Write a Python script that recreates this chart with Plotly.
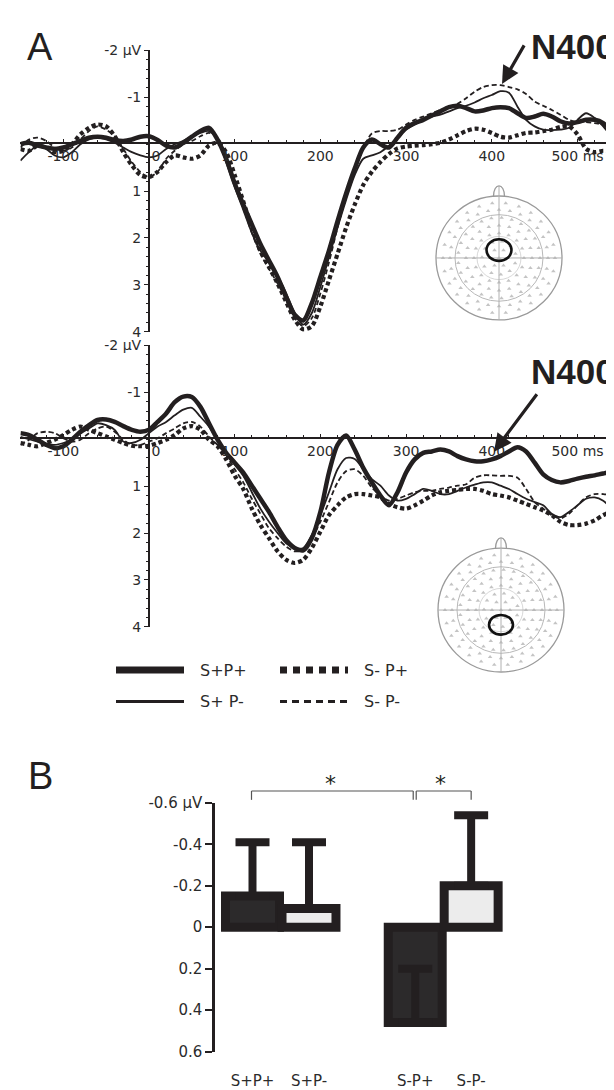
import math
import plotly.graph_objects as go

W, H = 614, 1090
def X(px): return px / W
def Y(py): return 1 - py / H

INK = '#231f20'
TXT = '#2b2b2b'
TICKFONT = dict(family='DejaVu Sans', size=14, color=TXT)

# ---------------- data ----------------
TIME_MS = list(range(-150, 551, 10))

# Panel A, upper plot (central site)
TOP_SPP = [0, -0.03, 0.03, 0.07, 0.10, 0.07, 0, -0.07, -0.14, -0.16, -0.14, -0.09, -0.07, -0.10, -0.16,
           -0.17, -0.09, 0.03, 0.07, -0.03, -0.16, -0.28, -0.35, -0.10, 0.31, 0.84, 1.29, 1.71, 2.13,
           2.48, 2.83, 3.25, 3.64, 3.76, 3.39, 2.83, 2.27, 1.64, 1.05, 0.52, 0.07, -0.10, 0, 0.07,
           -0.14, -0.35, -0.45, -0.52, -0.61, -0.70, -0.79, -0.82, -0.77, -0.70, -0.72, -0.77, -0.79,
           -0.77, -0.66, -0.56, -0.59, -0.65, -0.59, -0.49, -0.44, -0.47, -0.52, -0.52, -0.45, -0.28, -0.14]
TOP_SPM = [0.35, 0.17, 0.03, 0.10, 0.24, 0.28, 0.17, 0, -0.10, -0.14, -0.10, -0.03, 0.07, 0.17, 0.24,
           0.28, 0.24, 0.10, 0, -0.07, -0.17, -0.24, -0.28, -0.10, 0.38, 0.91, 1.40, 1.89, 2.27,
           2.52, 2.80, 3.18, 3.60, 3.85, 3.60, 3.04, 2.41, 1.78, 1.19, 0.66, 0.31, 0.24, 0.17, 0.03,
           -0.14, -0.31, -0.42, -0.52, -0.59, -0.63, -0.70, -0.77, -0.82, -0.89, -0.98, -1.05, -1.13,
           -1.10, -0.80, -0.52, -0.38, -0.31, -0.30, -0.31, -0.35, -0.52, -0.66, -0.56, -0.38, -0.17, -0.07]
TOP_SMP = [0.10, 0.14, 0.03, 0.07, 0.17, 0.14, 0, -0.21, -0.35, -0.42, -0.38, -0.17, 0.17, 0.45, 0.66,
           0.70, 0.59, 0.38, 0.24, 0.28, 0.31, 0.24, 0.03, -0.03, 0.17, 0.66, 1.22, 1.78, 2.27,
           2.62, 2.97, 3.36, 3.74, 3.95, 3.88, 3.46, 2.90, 2.34, 1.78, 1.29, 0.87, 0.59, 0.38, 0.21,
           0.09, 0.05, 0.03, 0.02, 0, -0.03, -0.10, -0.19, -0.28, -0.33, -0.31, -0.24, -0.16,
           -0.14, -0.19, -0.24, -0.25, -0.28, -0.31, -0.37, -0.38, -0.21, 0.10, 0.17, 0.14, 0.16, 0.14]
TOP_SMM = [0.07, -0.10, -0.14, -0.07, 0.07, 0.14, 0.07, -0.10, -0.28, -0.38, -0.31, -0.17, 0.10, 0.38, 0.59,
           0.70, 0.59, 0.31, 0.14, 0, -0.07, -0.17, -0.24, -0.14, 0.24, 0.80, 1.36, 1.89, 2.34,
           2.66, 2.97, 3.32, 3.71, 3.88, 3.71, 3.18, 2.52, 1.78, 1.12, 0.56, 0.10, -0.23, -0.28, -0.28,
           -0.31, -0.42, -0.52, -0.59, -0.66, -0.73, -0.79, -0.86, -0.98, -1.12, -1.22, -1.26, -1.26,
           -1.22, -1.17, -1.07, -0.91, -0.82, -0.73, -0.63, -0.52, -0.47, -0.47, -0.45, -0.42, -0.31, -0.21]

# Panel A, lower plot (posterior site)
BOT_SPP = [-0.13, -0.09, 0.01, 0.12, 0.19, 0.15, 0.01, -0.16, -0.30, -0.41, -0.42, -0.37, -0.28, -0.20, -0.16,
           -0.20, -0.37, -0.55, -0.79, -0.91, -0.90, -0.69, -0.34, 0.01, 0.29, 0.50, 0.71, 0.99, 1.27,
           1.55, 1.87, 2.15, 2.32, 2.37, 2.11, 1.55, 0.71, 0.12, -0.08, 0.22, 0.61, 0.92, 1.20, 1.41,
           1.13, 0.71, 0.43, 0.29, 0.26, 0.22, 0.26, 0.36, 0.43, 0.47, 0.47, 0.43, 0.36,
           0.26, 0.17, 0.26, 0.50, 0.75, 0.87, 0.92, 0.89, 0.84, 0.80, 0.77, 0.73, 0.70, 0.73]
BOT_SPM = [-0.05, 0.0, 0.05, 0.10, 0.12, 0.08, 0.01, -0.12, -0.23, -0.34, -0.30, -0.20, 0.05, 0.08, 0.01,
           -0.13, -0.27, -0.37, -0.51, -0.63, -0.67, -0.48, -0.27, 0.01, 0.29, 0.54, 0.78, 1.13, 1.48,
           1.76, 2.00, 2.22, 2.32, 2.32, 2.04, 1.62, 1.13, 0.64, 0.40, 0.42, 0.64, 0.85, 0.99, 1.20,
           1.31, 1.27, 1.17, 1.06, 1.10, 1.17, 1.17, 1.10, 1.03, 0.97, 0.92, 0.92, 0.99,
           1.06, 1.17, 1.27, 1.34, 1.41, 1.59, 1.66, 1.55, 1.41, 1.27, 1.24, 1.31, 1.48, 1.59]
BOT_SMP = [0.08, 0.12, 0.15, 0.08, 0.01, -0.09, -0.20, -0.27, -0.20, -0.13, -0.06, 0.01, 0.08, 0.14, 0.15,
           0.14, 0.08, 0.01, -0.09, -0.23, -0.28, -0.20, 0.01, 0.15, 0.43, 0.78, 1.06, 1.48, 1.83,
           2.11, 2.39, 2.57, 2.64, 2.57, 2.32, 1.97, 1.62, 1.41, 1.24, 1.17, 1.17, 1.20, 1.24, 1.38,
           1.45, 1.48, 1.41, 1.31, 1.20, 1.13, 1.10, 1.08, 1.06, 1.06, 1.10, 1.17, 1.20,
           1.24, 1.31, 1.38, 1.45, 1.52, 1.62, 1.76, 1.83, 1.83, 1.80, 1.73, 1.62, 1.55, 1.59]
BOT_SMM = [0.12, 0.01, -0.13, -0.16, -0.13, -0.02, 0.05, 0.01, -0.13, -0.23, -0.27, -0.16, 0.01, 0.12, 0.12,
           0.05, -0.02, -0.13, -0.23, -0.34, -0.37, -0.27, -0.06, 0.12, 0.33, 0.64, 0.92, 1.27, 1.59,
           1.90, 2.11, 2.29, 2.39, 2.36, 2.11, 1.76, 1.34, 0.92, 0.68, 0.64, 0.78, 1.03, 1.20, 1.31,
           1.27, 1.20, 1.13, 1.10, 1.10, 1.06, 1.03, 0.99, 0.96, 0.82, 0.77, 0.77, 0.78,
           0.78, 0.82, 1.06, 1.34, 1.48, 1.62, 1.69, 1.59, 1.41, 1.24, 1.17, 1.17, 1.20, 1.31]

CONDITIONS = ['S+P+', 'S+ P-', 'S- P+', 'S- P-']
X_TICKS = [-100, 0, 100, 200, 300, 400, 500]
X_TICKTEXT = ['-100', '\u20030', '100', '200', '300', '400', '500 ms']
Y_TICKS = [-2, -1, 1, 2, 3, 4]
Y_TICKTEXT = ['-2 \u00b5V', '-1', '1', '2', '3', '4']

# Panel B
BAR_LABELS = ['S+P+', 'S+P-', 'S-P+', 'S-P-']
BAR_MEANS = [-0.15, -0.09, 0.46, -0.20]
BAR_SE = [0.26, 0.32, 0.26, 0.34]
B_TICKS = [-0.6, -0.4, -0.2, 0, 0.2, 0.4, 0.6]
B_TICKTEXT = ['-0.6 \u00b5V', '-0.4', '-0.2', '0', '0.2', '0.4', '0.6']

# ---------------- styles / layout constants ----------------
STYLE = {
    'S+P+': dict(width=4.5, dash='solid'),
    'S+ P-': dict(width=1.8, dash='solid'),
    'S- P+': dict(width=4.2, dash='4px,3px'),
    'S- P-': dict(width=1.8, dash='5px,3px'),
}
DRAW_ORDER = ['S- P-', 'S- P+', 'S+ P-', 'S+P+']

A_ZERO_X = 141
A_PX_PER_MS = 0.857
A_XRANGE = [-150, 550]
A_XDOM = [X(A_ZERO_X + A_PX_PER_MS * A_XRANGE[0]), X(A_ZERO_X + A_PX_PER_MS * A_XRANGE[1])]
PANELS = [
    dict(xa='x', ya='y', top=34, bottom=320, zero=128,
         series=dict(zip(CONDITIONS, [TOP_SPP, TOP_SPM, TOP_SMP, TOP_SMM]))),
    dict(xa='x2', ya='y2', top=334, bottom=620, zero=428,
         series=dict(zip(CONDITIONS, [BOT_SPP, BOT_SPM, BOT_SMP, BOT_SMM]))),
]

fig = go.Figure()
layout = dict(width=W, height=H, margin=dict(l=0, r=0, t=0, b=0),
              paper_bgcolor='white', plot_bgcolor='rgba(0,0,0,0)', showlegend=False)

for i, p in enumerate(PANELS):
    for name in DRAW_ORDER:
        st = STYLE[name]
        fig.add_trace(go.Scatter(x=TIME_MS, y=p['series'][name], mode='lines',
                                 line=dict(color=INK, width=st['width'], dash=st['dash'],
                                           shape='spline', smoothing=0.8),
                                 xaxis=p['xa'], yaxis=p['ya'], name=name, hoverinfo='skip'))
    xkey = 'xaxis' if i == 0 else 'xaxis2'
    ykey = 'yaxis' if i == 0 else 'yaxis2'
    layout[xkey] = dict(domain=A_XDOM, range=A_XRANGE, anchor='free', position=Y(p['zero']),
                        showline=True, linecolor=INK, linewidth=2, showgrid=False, zeroline=False,
                        tickmode='array', tickvals=X_TICKS, ticktext=X_TICKTEXT,
                        ticks='inside', ticklen=3, tickcolor=INK, tickfont=TICKFONT,
                        minor=dict(tickmode='linear', tick0=0, dtick=20, ticks='inside',
                                   ticklen=2, tickcolor=INK, showgrid=False))
    layout[ykey] = dict(domain=[Y(p['bottom']), Y(p['top'])], range=[4, -2], anchor='free',
                        position=X(A_ZERO_X), showline=True, linecolor=INK, linewidth=2,
                        showgrid=False, zeroline=False, tickmode='array', tickvals=Y_TICKS,
                        ticktext=Y_TICKTEXT, ticks='outside', ticklen=4, tickcolor=INK,
                        tickfont=TICKFONT,
                        minor=dict(tickmode='linear', tick0=0, dtick=0.2, ticks='outside',
                                   ticklen=2, tickcolor=INK, showgrid=False))

# ---------------- head insets ----------------
HEADS = [dict(xa='x3', ya='y3', cx=491, cy=245, roi=(0, 8, 12.5, 11)),
         dict(xa='x4', ya='y4', cx=493, cy=603, roi=(0, -15, 12, 10))]
R_HEAD = 63
shapes = []
ex, ey = [], []
for r, n in [(0, 1), (9, 6), (17, 11), (25, 16), (33, 20), (41, 25), (49, 28), (56, 26)]:
    for k in range(n):
        a = 2 * math.pi * k / n + (0.25 if (n % 2) else 0.0)
        ex.append(r * math.cos(a))
        ey.append(r * math.sin(a))
for j, hd in enumerate(HEADS):
    n = 3 + j
    layout[f'xaxis{n}'] = dict(domain=[X(hd['cx'] - 75), X(hd['cx'] + 75)], range=[-75, 75],
                               visible=False, anchor=f'y{n}')
    layout[f'yaxis{n}'] = dict(domain=[Y(hd['cy'] + 80), Y(hd['cy'] - 80)], range=[-80, 80],
                               visible=False, anchor=f'x{n}')
    fig.add_trace(go.Scatter(x=ex, y=ey, mode='markers', xaxis=hd['xa'], yaxis=hd['ya'],
                             marker=dict(symbol='triangle-up', size=4, color='#c4c4c4'),
                             hoverinfo='skip'))
    ref = dict(xref=hd['xa'], yref=hd['ya'])
    for rr, col, wd in [(R_HEAD, '#9a9a9a', 1.3), (44, '#b8b8b8', 1), (22, '#cdcdcd', 0.8)]:
        shapes.append(dict(type='circle', x0=-rr, x1=rr, y0=-rr, y1=rr,
                           line=dict(color=col, width=wd), **ref))
    shapes.append(dict(type='line', x0=-R_HEAD, x1=R_HEAD, y0=0, y1=0,
                       line=dict(color='#b0b0b0', width=1), **ref))
    shapes.append(dict(type='line', x0=0, x1=0, y0=-R_HEAD, y1=R_HEAD + 10,
                       line=dict(color='#b0b0b0', width=1), **ref))
    shapes.append(dict(type='path', path='M -5.5,62.5 C -5.5,77 5.5,77 5.5,62.5',
                       line=dict(color='#9a9a9a', width=1.3), **ref))
    ox, oy, rx, ry = hd['roi']
    shapes.append(dict(type='circle', x0=ox - rx, x1=ox + rx, y0=oy - ry, y1=oy + ry,
                       line=dict(color='#111111', width=2.6), **ref))

# ---------------- panel B bars ----------------
BAR_POS = [0, 1, 2.88, 3.87]
BAR_PX0, BAR_UNIT = 244.5, 56.5
B_AXIS_PX = 207
B_RIGHT_PX = 540
def bar_px(pos): return BAR_PX0 + pos * BAR_UNIT
BAR_FILL = ['#2c2a2b', '#ececec', '#2c2a2b', '#ececec']

fig.add_trace(go.Bar(x=BAR_POS, y=BAR_MEANS, width=0.955, xaxis='x5', yaxis='y5',
                     marker=dict(color=BAR_FILL, line=dict(color=INK, width=9)),
                     error_y=dict(type='data', symmetric=False, array=[0] * 4, arrayminus=BAR_SE,
                                  color=INK, thickness=8, width=17),
                     hoverinfo='skip'))
layout['xaxis5'] = dict(domain=[X(B_AXIS_PX), X(B_RIGHT_PX)],
                        range=[(B_AXIS_PX - BAR_PX0) / BAR_UNIT, (B_RIGHT_PX - BAR_PX0) / BAR_UNIT],
                        anchor='y5', showline=False, showgrid=False, zeroline=False,
                        tickmode='array', tickvals=BAR_POS, ticktext=BAR_LABELS, ticks='',
                        ticklabelstandoff=18, tickfont=dict(TICKFONT, size=15))
layout['yaxis5'] = dict(domain=[Y(1052), Y(799)], range=[0.6, -0.6], anchor='x5',
                        showline=True, linecolor=INK, linewidth=2.5, showgrid=False, zeroline=False,
                        tickmode='array', tickvals=B_TICKS, ticktext=B_TICKTEXT, ticks='outside',
                        ticklen=7, tickwidth=2, tickcolor=INK, tickfont=dict(TICKFONT, size=15))

# significance brackets
BR_Y, BR_DROP = 787, 9
br_col = '#555555'
def bracket(p0, p1):
    for (xa, ya, xb, yb) in [(p0, BR_Y, p1, BR_Y), (p0, BR_Y, p0, BR_Y + BR_DROP), (p1, BR_Y, p1, BR_Y + BR_DROP)]:
        shapes.append(dict(type='line', xref='paper', yref='paper', x0=X(xa), y0=Y(ya), x1=X(xb), y1=Y(yb),
                           line=dict(color=br_col, width=1.2)))
bracket(bar_px(BAR_POS[0]) - 1, bar_px(BAR_POS[2]) - 2)
bracket(bar_px(BAR_POS[2]) + 1, bar_px(BAR_POS[3]))

annotations = []
def txt(t, x, y, size, family='DejaVu Sans', weight='normal', color=INK, xanchor='center'):
    annotations.append(dict(text=t, x=X(x), y=Y(y), xref='paper', yref='paper', showarrow=False,
                            xanchor=xanchor, yanchor='middle',
                            font=dict(family=family, size=size, color=color, weight=weight)))
for (a, b) in [(0, 2), (2, 3)]:
    txt('*', (bar_px(BAR_POS[a]) + bar_px(BAR_POS[b])) / 2 - 3, 779, 22)

# panel letters and N400 labels
txt('A', 32, 31, 38, family='Liberation Sans')
txt('B', 32, 772, 38, family='Liberation Sans')
txt('N400', 609, 30, 35, family='Liberation Sans', weight='bold', xanchor='right')
txt('N400', 609, 360, 35, family='Liberation Sans', weight='bold', xanchor='right')
for (tip, tail) in [((494, 68), (517, 28)), ((486, 442), (530, 383))]:
    annotations.append(dict(text='', x=X(tip[0]), y=Y(tip[1]), xref='paper', yref='paper',
                            ax=tail[0] - tip[0], ay=tail[1] - tip[1], axref='pixel', ayref='pixel',
                            showarrow=True, arrowhead=2, arrowsize=1.1, arrowwidth=3.2,
                            arrowcolor=INK))

# legend (drawn)
LEG = [('S+P+', 108, 664), ('S- P+', 272, 664), ('S+ P-', 108, 696), ('S- P-', 272, 696)]
LEG_STYLE = {'S+P+': (7, 'solid'), 'S+ P-': (3, 'solid'), 'S- P+': (7, '7px,6px'), 'S- P-': (3, '7px,5px')}
for name, lx, ly in LEG:
    w, d = LEG_STYLE[name]
    shapes.append(dict(type='line', xref='paper', yref='paper', x0=X(lx), x1=X(lx + 68), y0=Y(ly), y1=Y(ly),
                       line=dict(color=INK, width=w, dash=d)))
    annotations.append(dict(text=name, x=X(lx + 82), y=Y(ly), xref='paper', yref='paper', showarrow=False,
                            xanchor='left', yanchor='middle',
                            font=dict(family='DejaVu Sans', size=16, color=TXT)))

layout['shapes'] = shapes
layout['annotations'] = annotations
fig.update_layout(**layout)
fig.write_html('out.html')
